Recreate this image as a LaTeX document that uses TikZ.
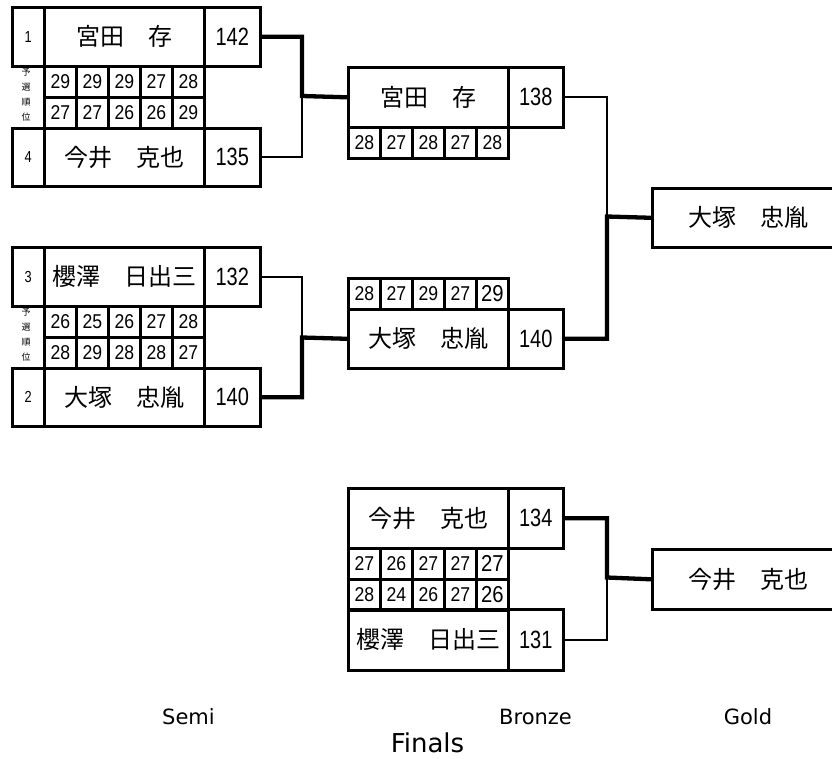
\documentclass[tikz,border=0pt]{standalone}
\usepackage{fontspec}
\newfontfamily\jpfont{Noto Sans CJK JP}
\newfontfamily\bigdig[FakeStretch=0.8]{Liberation Sans}
\newfontfamily\smdig[FakeStretch=0.88]{Liberation Sans}
\newfontfamily\labfont{DejaVu Sans}
\begin{document}
\begin{tikzpicture}[x=1pt,y=-1pt,
  box/.style={draw, line width=2.6pt, inner sep=0pt, anchor=north west},
  rankbox/.style={box, minimum width=32pt, font=\bigdig\fontsize{16}{16}\selectfont},
  namebox/.style={box, minimum width=160pt, font=\jpfont\fontsize{24}{24}\selectfont},
  winbox/.style={box, minimum width=192pt, font=\jpfont\fontsize{24}{24}\selectfont},
  scorebox/.style={box, font=\bigdig\fontsize{25}{25}\selectfont},
  cell/.style={box, minimum width=32pt, minimum height=31pt, font=\smdig\fontsize{20}{20}\selectfont},
  bigcell/.style={cell, font=\smdig\fontsize{23}{23}\selectfont},
  vlab/.style={inner sep=0pt, align=center, font=\jpfont\fontsize{9}{15}\selectfont},
  thinln/.style={line width=2pt},
  thickln/.style={line width=4.3pt},
  lab/.style={inner sep=0pt, anchor=base, font=\labfont\fontsize{21}{21}\selectfont}]
\useasboundingbox (0,0) rectangle (832,758);
\fill[white] (0,0) rectangle (832,758);
\clip (0,0) rectangle (832,758);

% ---------- Semi final 1 ----------
\node[rankbox, minimum height=59pt] (a1r) at (11,6) {1};
\node[namebox, minimum height=59pt] (a1n) at (43,6) {宮田　存};
\node[scorebox, minimum width=56pt, minimum height=59pt] (a1t) at (203,6) {142};
\foreach \v [count=\i from 0] in {29,29,29,27,28} \node[cell] (a1s\i) at ({43+32*\i},65) {\v};
\foreach \v [count=\i from 0] in {27,27,26,26,29} \node[cell] (a4s\i) at ({43+32*\i},96) {\v};
\node[rankbox, minimum height=58pt] (a4r) at (11,127) {4};
\node[namebox, minimum height=58pt] (a4n) at (43,127) {今井　克也};
\node[scorebox, minimum width=56pt, minimum height=58pt] (a4t) at (203,127) {135};
\node[vlab] (aq) at (26,95) {予\\選\\順\\位};

% ---------- Semi final 2 ----------
\node[rankbox, minimum height=59pt] (b3r) at (11,246) {3};
\node[namebox, minimum height=59pt] (b3n) at (43,246) {櫻澤　日出三};
\node[scorebox, minimum width=56pt, minimum height=59pt] (b3t) at (203,246) {132};
\foreach \v [count=\i from 0] in {26,25,26,27,28} \node[cell] (b3s\i) at ({43+32*\i},305) {\v};
\foreach \v [count=\i from 0] in {28,29,28,28,27} \node[cell] (b2s\i) at ({43+32*\i},336) {\v};
\node[rankbox, minimum height=58pt] (b2r) at (11,367) {2};
\node[namebox, minimum height=58pt] (b2n) at (43,367) {大塚　忠胤};
\node[scorebox, minimum width=56pt, minimum height=58pt] (b2t) at (203,367) {140};
\node[vlab] (bq) at (26,335) {予\\選\\順\\位};

% ---------- Final top ----------
\node[namebox, minimum height=60pt] (cn) at (347,66) {宮田　存};
\node[scorebox, minimum width=55pt, minimum height=60pt] (ct) at (507,66) {138};
\foreach \v [count=\i from 0] in {28,27,28,27,28} \node[cell] (cs\i) at ({347+32*\i},126) {\v};

% ---------- Final bottom ----------
\foreach \v [count=\i from 0] in {28,27,29,27} \node[cell] (ds\i) at ({347+32*\i},277) {\v};
\node[bigcell] (ds4) at (475,277) {29};
\node[namebox, minimum height=59pt] (dn) at (347,308) {大塚　忠胤};
\node[scorebox, minimum width=55pt, minimum height=59pt] (dt) at (507,308) {140};

% ---------- Bronze ----------
\node[namebox, minimum height=60pt] (en) at (347,487) {今井　克也};
\node[scorebox, minimum width=55pt, minimum height=60pt] (et) at (507,487) {134};
\foreach \v [count=\i from 0] in {27,26,27,27} \node[cell] (es\i) at ({347+32*\i},547) {\v};
\node[bigcell] (es4) at (475,547) {27};
\foreach \v [count=\i from 0] in {28,24,26,27} \node[cell] (fs\i) at ({347+32*\i},578) {\v};
\node[bigcell] (fs4) at (475,578) {26};
\node[namebox, minimum height=61pt] (fn) at (347,608) {櫻澤　日出三};
\node[scorebox, minimum width=55pt, minimum height=61pt] (ft) at (507,608) {131};

% ---------- Winners ----------
\node[winbox, minimum height=59pt] (gold) at (651,187) {大塚　忠胤};
\node[winbox, minimum height=60pt] (bronze) at (651,548) {今井　克也};

% ---------- Brackets ----------
\coordinate (j1) at (302,96);
\coordinate (j2) at (302,337.5);
\coordinate (j3) at (607,216.5);
\coordinate (j4) at (607,577.5);
\draw[thinln] (a4t.east) -| (j1);
\draw[thickln] (a1t.east) -| (j1) -- (cn.west);
\draw[thinln] (b3t.east) -| (j2);
\draw[thickln] (b2t.east) -| (j2) -- (dn.west);
\draw[thinln] (ct.east) -| (j3);
\draw[thickln] (dt.east) -| (j3) -- (gold.west);
\draw[thinln] (ft.east) -| (j4);
\draw[thickln] (et.east) -| (j4) -- (bronze.west);

% ---------- Labels ----------
\node[lab] (semi) at (188.5,724) {Semi};
\node[lab] (bronzel) at (535.5,724) {Bronze};
\node[lab] (goldl) at (748,724) {Gold};
\node[lab, font=\labfont\fontsize{26}{26}\selectfont] (finals) at (427.5,752) {Finals};
\end{tikzpicture}
\end{document}
